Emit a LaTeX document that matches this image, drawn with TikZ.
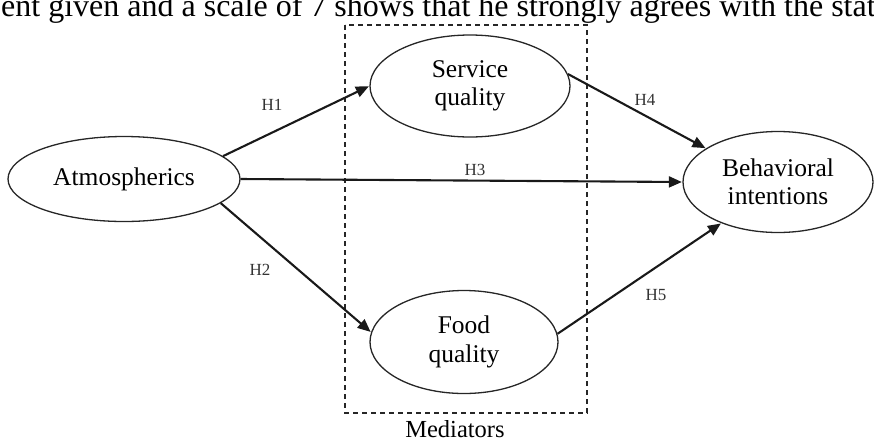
\documentclass[tikz,border=0pt]{standalone}
\usepackage{fontspec}
\setmainfont{Liberation Serif}
\usetikzlibrary{shapes.geometric,arrows.meta}
\tikzset{
  ell/.style={ellipse, draw=black!85, line width=1.3pt, inner sep=0pt, align=center,
    font=\fontsize{25.5}{28.5}\selectfont},
  conn/.style={line width=2.1pt, draw=black!90, -{Triangle[length=13pt,width=11pt]}, shorten >=0.5pt},
  hlab/.style={font=\fontsize{17}{20}\selectfont, text=black!80, inner sep=0pt},
  medbox/.style={draw=black!85, line width=1.2pt, dash pattern=on 5pt off 4pt}
}
\begin{document}
\begin{tikzpicture}[x=1pt,y=-1pt]
\useasboundingbox (0,0) rectangle (874,440);
\node[anchor=base west, inner sep=0pt, font=\fontsize{32}{36}\selectfont] (top) at (1,16)
  {ent given and a scale of 7 shows that he strongly agrees with the statement};
\draw[medbox] (345,25) rectangle (587,413);
\node[anchor=base, inner sep=0pt, font=\fontsize{24.5}{28}\selectfont] (med) at (455,437) {Mediators};
\node[ell, minimum width=232pt, minimum height=85pt] (atm) at (124,179) {Atmospherics};
\node[ell, minimum width=200pt, minimum height=102pt] (svc) at (470,86) {Service\\quality};
\node[ell, minimum width=188pt, minimum height=103pt] (food) at (464,342) {Food\\quality};
\node[ell, minimum width=190pt, minimum height=101pt] (beh) at (778,182) {Behavioral\\intentions};
\draw[conn] (atm.13) -- (svc.west);
\draw[conn] (atm.-14) -- (food.174);
\draw[conn] (atm.east) -- (beh.west);
\draw[conn] (svc.7.6) -- (beh.155.7);
\draw[conn] (food.5.5) -- (beh.216.6);
\node[hlab] (h1) at (272,105) {H1};
\node[hlab] (h2) at (260,270) {H2};
\node[hlab] (h3) at (475,170) {H3};
\node[hlab] (h4) at (645,100) {H4};
\node[hlab] (h5) at (656,295) {H5};
\end{tikzpicture}
\end{document}
